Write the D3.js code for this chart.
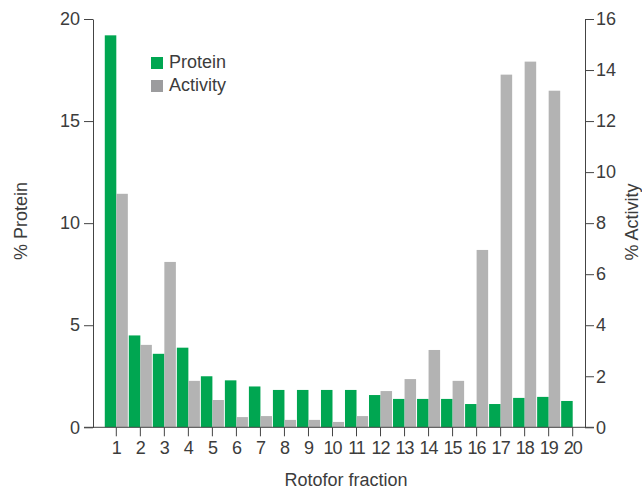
<!DOCTYPE html>
<html><head><meta charset="utf-8">
<script src="https://cdn.jsdelivr.net/npm/d3@7"></script>
<style>
body{margin:0;background:#fff;}
svg text{font-family:"Liberation Sans",Arial,sans-serif;fill:#3c3c3c;}
</style></head>
<body><svg id="c" width="642" height="491"></svg>
<script>
const fractions = ["1","2","3","4","5","6","7","8","9","10","11","12","13","14","15","16","17","18","19","20"];
const protein = [19.2,4.5,3.6,3.9,2.5,2.3,2.0,1.83,1.83,1.83,1.83,1.58,1.39,1.39,1.39,1.14,1.14,1.44,1.49,1.29];
const activity = [9.15,3.23,6.48,1.82,1.07,0.4,0.44,0.29,0.29,0.21,0.44,1.42,1.89,3.03,1.82,6.95,13.82,14.33,13.19,0];
const leftTicks = [0,5,10,15,20];
const rightTicks = [0,2,4,6,8,10,12,14,16];
const seriesNames = ["Protein","Activity"];
const colors = {Protein:"#00a651", Activity:"#b3b3b3"};
const legendColors = {Protein:"#00a651", Activity:"#9c9c9e"};

const svg = d3.select("#c");
const axisColor = "#444";
const fs = "18px";
const x0 = d3.scaleBand().domain(fractions).range([104.3,584.7]).paddingInner(0.04).paddingOuter(0.02);
const x1 = d3.scaleBand().domain(seriesNames).range([0,x0.bandwidth()]).padding(0);
const yL = d3.scaleLinear().domain([0,20]).range([427.3,19]);
const yR = d3.scaleLinear().domain([0,16]).range([427.3,19]);

const g = svg.append("g");
fractions.forEach((f,i)=>{
  g.append("rect").attr("x",x0(f)+x1("Protein")).attr("width",x1.bandwidth())
    .attr("y",yL(protein[i])).attr("height",yL(0)-yL(protein[i])).attr("fill",colors.Protein);
  g.append("rect").attr("x",x0(f)+x1("Activity")).attr("width",x1.bandwidth())
    .attr("y",yR(activity[i])).attr("height",yR(0)-yR(activity[i])).attr("fill",colors.Activity);
});

const la = svg.append("g").attr("transform","translate(93,0)")
  .call(d3.axisLeft(yL).tickValues(leftTicks).tickSize(9).tickSizeOuter(0).tickPadding(4));
const ra = svg.append("g").attr("transform","translate(585,0)")
  .call(d3.axisRight(yR).tickValues(rightTicks).tickSize(9).tickSizeOuter(0).tickPadding(2));
const ba = svg.append("g").attr("transform","translate(0,427.3)")
  .call(d3.axisBottom(x0).tickSize(9).tickSizeOuter(0).tickPadding(5));
ba.select(".domain").remove();
svg.append("line").attr("x1",84).attr("x2",594).attr("y1",427.3).attr("y2",427.3).attr("stroke",axisColor).attr("stroke-width",1);

[la,ra,ba].forEach(a=>{
  a.selectAll("text").style("font-size",fs).style("font-family","'Liberation Sans',Arial,sans-serif").attr("fill","#3c3c3c");
  a.selectAll("line").attr("stroke",axisColor);
  a.select(".domain").attr("stroke",axisColor);
});
ba.selectAll("text").attr("letter-spacing","-1");

svg.append("text").attr("transform","translate(27,221) rotate(-90)").attr("text-anchor","middle")
  .style("font-size",fs).text("% Protein");
svg.append("text").attr("transform","translate(638,222) rotate(-90)").attr("text-anchor","middle")
  .style("font-size",fs).text("% Activity");
svg.append("text").attr("x",346).attr("y",486).attr("text-anchor","middle")
  .style("font-size",fs).text("Rotofor fraction");

const leg = svg.append("g");
seriesNames.forEach((s,i)=>{
  leg.append("rect").attr("x",151).attr("y",57+i*23).attr("width",12).attr("height",12).attr("fill",legendColors[s]);
  leg.append("text").attr("x",169).attr("y",68+i*23).style("font-size",fs).text(s);
});
</script></body></html>
